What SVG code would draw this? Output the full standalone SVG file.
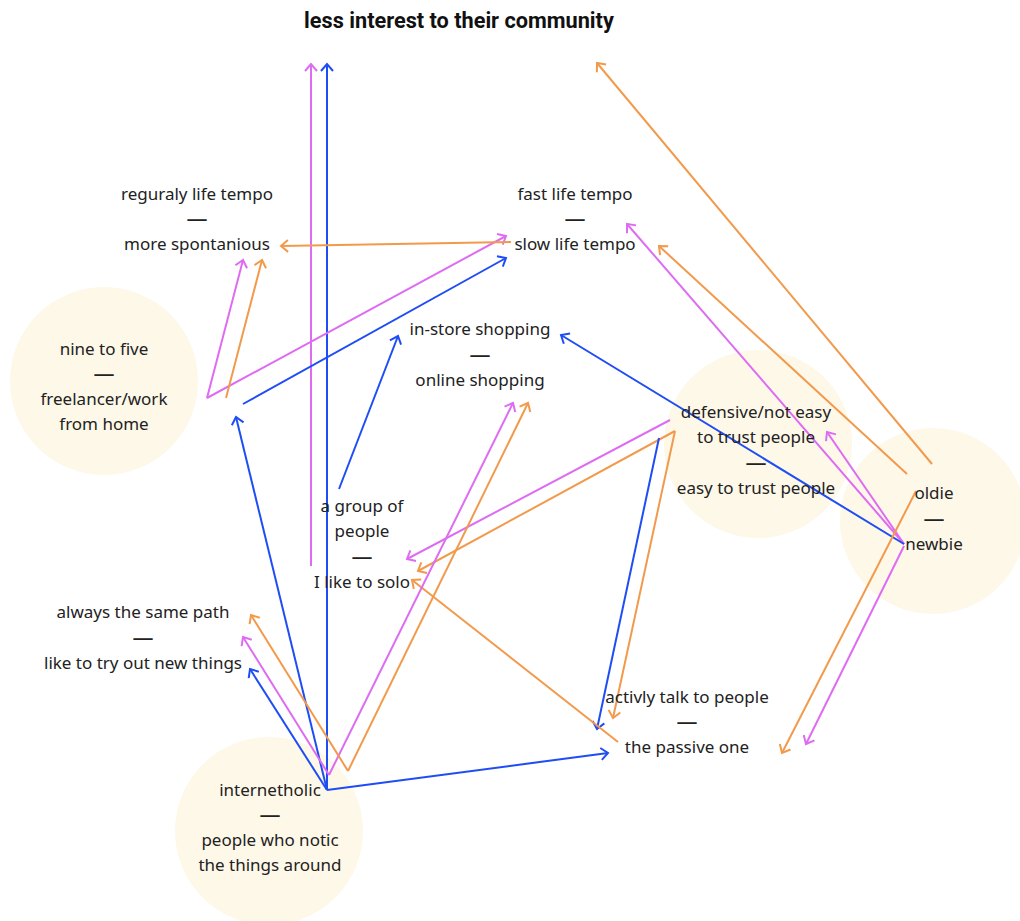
<svg xmlns="http://www.w3.org/2000/svg" width="1020" height="921" viewBox="0 0 1020 921">
<style>
.bg{fill:#FEF8E9}
.t{font-family:"Noto Sans","Liberation Sans",sans-serif;font-size:17px;fill:#222;text-anchor:middle}
.d{font-family:"Noto Sans","Liberation Sans",sans-serif;font-size:21px;fill:#222;text-anchor:middle}
.title{font-family:Roboto,"Liberation Sans",sans-serif;font-size:21.7px;font-weight:bold;fill:#111;text-anchor:middle}
.o{stroke:#F29A4C;stroke-width:2;fill:none;marker-end:url(#ao)}
.p{stroke:#DE6CF2;stroke-width:2;fill:none;marker-end:url(#ap)}
.b{stroke:#1F4DF5;stroke-width:2;fill:none;marker-end:url(#ab)}
</style>
<defs>
<marker id="ao" markerUnits="userSpaceOnUse" markerWidth="20" markerHeight="20" refX="10" refY="10" orient="auto" overflow="visible"><path d="M3,4 L10,10 L3,16" fill="none" stroke="#F29A4C" stroke-width="2"/></marker>
<marker id="ap" markerUnits="userSpaceOnUse" markerWidth="20" markerHeight="20" refX="10" refY="10" orient="auto" overflow="visible"><path d="M3,4 L10,10 L3,16" fill="none" stroke="#DE6CF2" stroke-width="2"/></marker>
<marker id="ab" markerUnits="userSpaceOnUse" markerWidth="20" markerHeight="20" refX="10" refY="10" orient="auto" overflow="visible"><path d="M3,4 L10,10 L3,16" fill="none" stroke="#1F4DF5" stroke-width="2"/></marker>
</defs>
<rect width="1020" height="921" fill="#fff"/>
<g id="backgrounds">
<circle class="bg" cx="104" cy="381" r="94"/>
<circle class="bg" cx="758" cy="444" r="94"/>
<circle class="bg" cx="933" cy="521" r="93"/>
<circle class="bg" cx="269" cy="831" r="94"/>
</g>
<g id="connectors">
<path class="p" d="M311,566 L311,64"/>
<path class="b" d="M327,790 L327,64"/>
<path class="o" d="M932,464 L597,63"/>
<path class="o" d="M907,474 L659,246"/>
<path class="p" d="M904,544 L627,224"/>
<path class="p" d="M904,544 L827,432"/>
<path class="b" d="M904,544 L561,335"/>
<path class="p" d="M904,546 L806,744"/>
<path class="o" d="M916,491 L782,753"/>
<path class="p" d="M670,420 L407,559"/>
<path class="o" d="M675,431 L418,571"/>
<path class="o" d="M675,431 L613,718"/>
<path class="b" d="M659,438 L597,729"/>
<path class="o" d="M618,742 L412,580"/>
<path class="b" d="M327,790 L236,417"/>
<path class="b" d="M327,790 L250,669"/>
<path class="b" d="M327,790 L608,753"/>
<path class="p" d="M329,775 L243,637"/>
<path class="p" d="M329,775 L513,403"/>
<path class="o" d="M348,771 L251,615"/>
<path class="o" d="M348,771 L528,403"/>
<path class="b" d="M339,489 L398,336"/>
<path class="p" d="M207,398 L243,260"/>
<path class="p" d="M207,398 L506,236"/>
<path class="o" d="M226,398 L262,260"/>
<path class="b" d="M243,404 L506,258"/>
<path class="o" d="M511,242 L281,246"/>
</g>
<g id="title"><text class="title" x="459" y="28">less interest to their community</text></g>
<g id="node-tempo-regular"><text class="t" x="197" y="200">reguraly life tempo</text><text class="d" x="197" y="226">—</text><text class="t" x="197" y="250">more spontanious</text></g>
<g id="node-tempo-fast"><text class="t" x="575" y="200">fast life tempo</text><text class="d" x="575" y="226">—</text><text class="t" x="575" y="250">slow life tempo</text></g>
<g id="node-work"><text class="t" x="104" y="355">nine to five</text><text class="d" x="104" y="381">—</text><text class="t" x="104" y="405">freelancer/work</text><text class="t" x="104" y="430">from home</text></g>
<g id="node-shopping"><text class="t" x="480" y="335">in-store shopping</text><text class="d" x="480" y="362">—</text><text class="t" x="480" y="386">online shopping</text></g>
<g id="node-trust"><text class="t" x="756" y="418">defensive/not easy</text><text class="t" x="756" y="443">to trust people</text><text class="d" x="756" y="470">—</text><text class="t" x="756" y="494">easy to trust people</text></g>
<g id="node-oldie"><text class="t" x="934" y="499">oldie</text><text class="d" x="934" y="526">—</text><text class="t" x="934" y="550">newbie</text></g>
<g id="node-group"><text class="t" x="362" y="512">a group of</text><text class="t" x="362" y="537">people</text><text class="d" x="362" y="564">—</text><text class="t" x="362" y="588">I like to solo</text></g>
<g id="node-path"><text class="t" x="143" y="618">always the same path</text><text class="d" x="143" y="645">—</text><text class="t" x="143" y="669">like to try out new things</text></g>
<g id="node-talk"><text class="t" x="687" y="703">activly talk to people</text><text class="d" x="687" y="729">—</text><text class="t" x="687" y="753">the passive one</text></g>
<g id="node-internet"><text class="t" x="270" y="796">internetholic</text><text class="d" x="270" y="822">—</text><text class="t" x="270" y="846">people who notic</text><text class="t" x="270" y="871">the things around</text></g>
</svg>
